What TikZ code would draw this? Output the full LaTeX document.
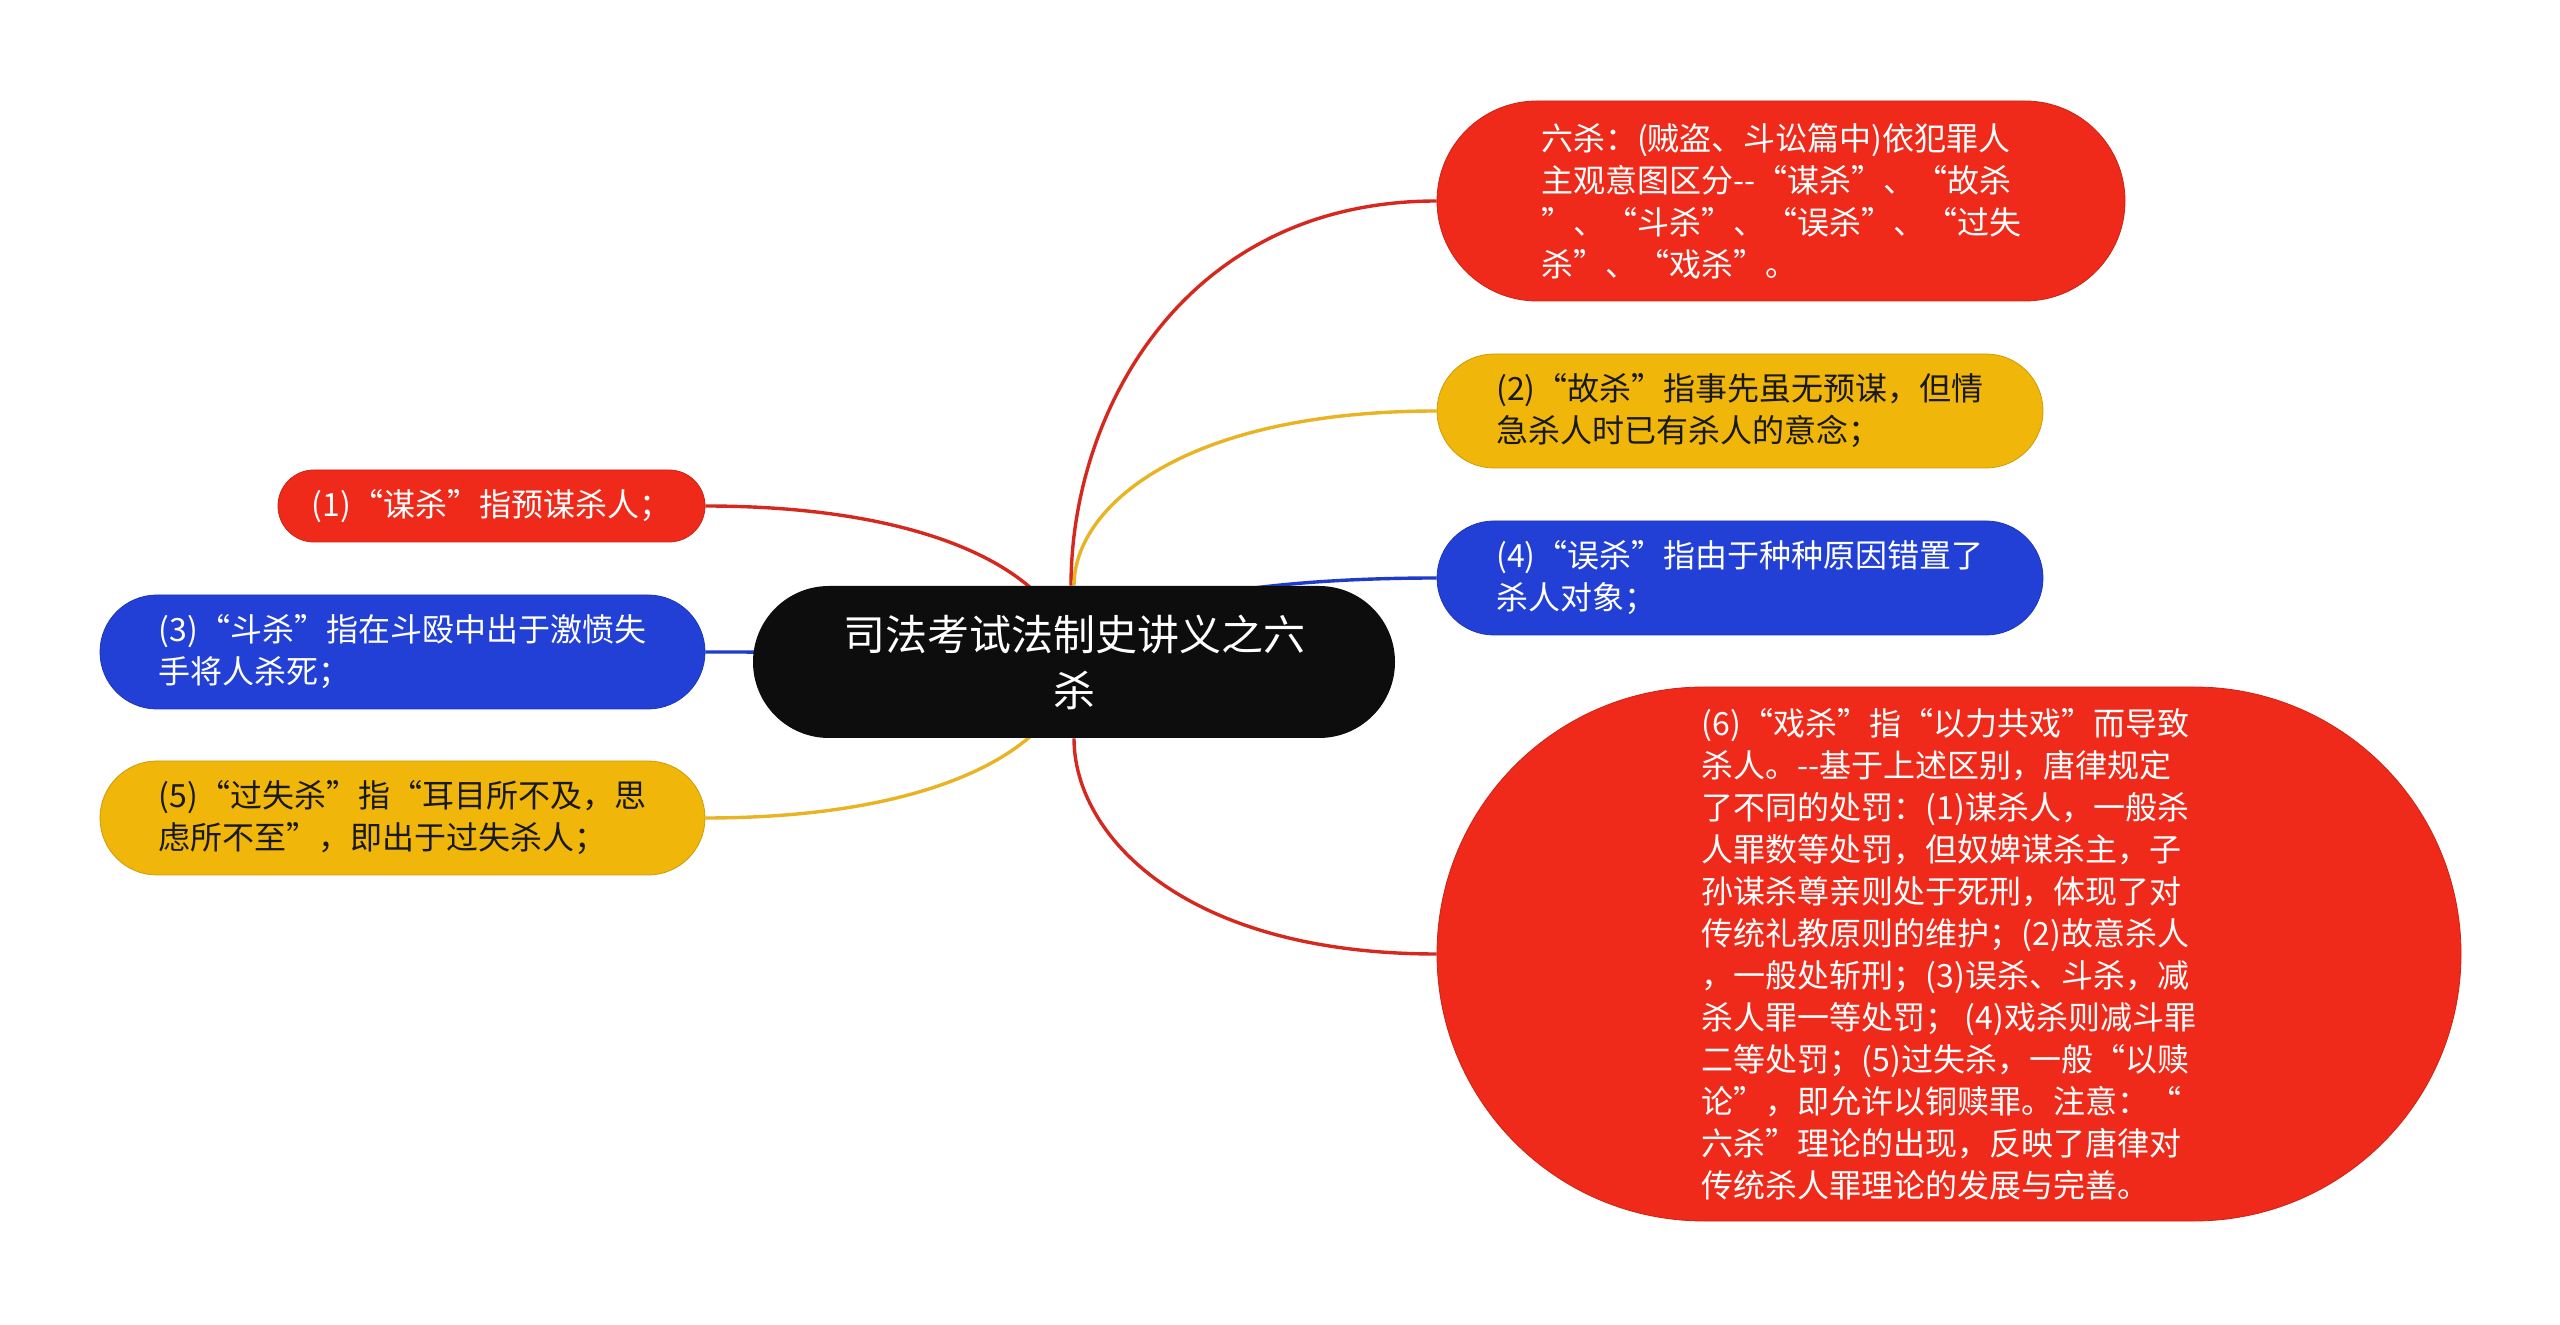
\documentclass[tikz,border=0pt]{standalone}
\usepackage{fontspec}
\setmainfont{Noto Sans CJK SC}
\definecolor{mred}{HTML}{EF2A1A}
\definecolor{myel}{HTML}{F0B70A}
\definecolor{mblu}{HTML}{2240D6}
\definecolor{mblk}{HTML}{0D0D0D}
\definecolor{lred}{HTML}{D5291F}
\definecolor{lyel}{HTML}{E8B424}
\definecolor{lblu}{HTML}{1E3CC8}
\pgfdeclarelayer{bg}
\pgfsetlayers{bg,main}
\tikzset{
  box/.style={rectangle, inner sep=0pt, align=left, font=\fontsize{16pt}{21pt}\selectfont},
  redbox/.style={box, fill=mred, draw=mred!85!black, line width=0.4pt, text=white},
  yelbox/.style={box, fill=myel, draw=myel!85!black, line width=0.4pt, text=black!90},
  blubox/.style={box, fill=mblu, draw=mblu!85!black, line width=0.4pt, text=white},
  rootbox/.style={rectangle, inner sep=0pt, align=center, fill=mblk, text=white,
     font=\fontsize{21pt}{28pt}\selectfont, minimum width=321pt, minimum height=76pt, rounded corners=38pt},
  small/.style={minimum width=303pt, minimum height=57pt, rounded corners=28.5pt},
  link/.style={line width=1.7pt},
}
\begin{document}
\begin{tikzpicture}[x=0.5pt,y=-0.5pt]
\useasboundingbox (0,0) rectangle (2560,1325);

\node[rootbox] (c) at (1074,662) {司法考试法制史讲义之六\\杀};

\node[redbox, minimum width=344pt, minimum height=100pt, rounded corners=50pt] (n0) at (1781,201)
  {六杀：(贼盗、斗讼篇中)依犯罪人\\主观意图区分-{}-“谋杀”、“故杀\\”、“斗杀”、“误杀”、“过失\\杀”、“戏杀”。};
\node[yelbox, small] (n2) at (1740,411) {(2)“故杀”指事先虽无预谋，但情\\急杀人时已有杀人的意念；};
\node[blubox, small] (n4) at (1740,578) {(4)“误杀”指由于种种原因错置了\\杀人对象；};
\node[redbox, minimum width=512pt, minimum height=267pt, rounded corners=133.5pt] (n6) at (1949,954)
  {(6)“戏杀”指“以力共戏”而导致\\杀人。-{}-基于上述区别，唐律规定\\了不同的处罚：(1)谋杀人，一般杀\\人罪数等处罚，但奴婢谋杀主，子\\孙谋杀尊亲则处于死刑，体现了对\\传统礼教原则的维护；(2)故意杀人\\，一般处斩刑；(3)误杀、斗杀，减\\杀人罪一等处罚； (4)戏杀则减斗罪\\二等处罚；(5)过失杀，一般“以赎\\论”，即允许以铜赎罪。注意：“\\六杀”理论的出现，反映了唐律对\\传统杀人罪理论的发展与完善。};

\node[redbox, minimum width=213.5pt, minimum height=36pt, rounded corners=18pt] (n1) at (491.5,506) {(1)“谋杀”指预谋杀人；};
\node[blubox, small, minimum width=302.5pt] (n3) at (402.5,652) {(3)“斗杀”指在斗殴中出于激愤失\\手将人杀死；};
\node[yelbox, small, minimum width=302.5pt] (n5) at (402.5,818) {(5)“过失杀”指“耳目所不及，思\\虑所不至”，即出于过失杀人；};

\begin{pgfonlayer}{bg}
\fill[white] (0,0) rectangle (2560,1325);
\draw[link, lred] ([xshift=-1.5pt]c.north) .. controls +(0,-173) and +(-253,0) .. (n0.west);
\draw[link, lyel] (c.north) .. controls +(0,-79) and +(-253,0) .. (n2.west);
\draw[link, lblu] (c.center) .. controls +(0,-38) and +(-253,0) .. (n4.west);
\draw[link, lred] (c.south) .. controls +(0,97) and +(-253,0) .. (n6.west);
\draw[link, lred] ([xshift=-2pt]c.center) .. controls +(0,-75) and +(250,0) .. (n1.east);
\draw[link, lblu] (c.center) .. controls +(0,-4) and +(260,0) .. (n3.east);
\draw[link, lyel] ([xshift=-2pt]c.center) .. controls +(0,75) and +(250,0) .. (n5.east);
\end{pgfonlayer}
\end{tikzpicture}
\end{document}
